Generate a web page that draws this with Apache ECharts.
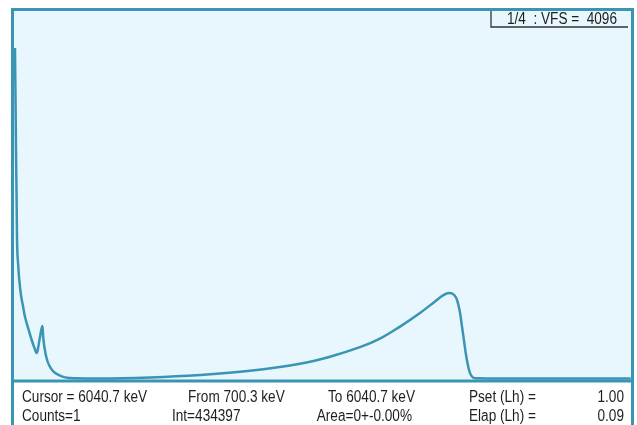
<!DOCTYPE html>
<html><head><meta charset="utf-8">
<script src="https://cdn.jsdelivr.net/npm/echarts@6/dist/echarts.min.js"></script>
<style>html,body{margin:0;padding:0;background:#fff}#c{width:637px;height:425px}</style>
</head><body><div id="c"></div>
<script>
// Spectrum: channel (0..1024) vs counts (full scale 4096)
const channels = [4.1,5.0,5.8,6.8,7.9,9.4,11.2,14.0,17.3,20.6,26.8,31.7,36.3,40.0,41.5,45.4,49.2,50.7,52.9,56.2,60.3,66.9,75.1,86.7,103.2,144.5,227.1,309.7,392.3,474.8,524.4,573.9,606.9,640,673,697.8,711,720.9,727.5,732.5,735.8,739.1,742.4,745.7,749,752.3,755.6,760.6,767.2,805.2,887.7,1021];
const counts   = [3672,3098,2547,1996,1444,1279,1114,948,827,709,562,452,364,309,336,485,607,485,364,254,176,110,70,40,30,28,39,66,112,190,268,373,467,600,750,877,944,971,960,921,855,756,600,445,290,170,88,38,30,28,28,28];
const vfs = 4096, channelsMax = 1024;
const infoLeft  = [["Cursor = 6040.7 keV","Counts=1"],["From 700.3 keV","Int=434397"],["To 6040.7 keV","Area=0+-0.00%"],["Pset (Lh) =","Elap (Lh) ="]];
const infoRight = ["1.00","0.09"];
const scaleLabel = "1/4  : VFS =  4096";

const FONT = "'Liberation Sans',Arial,sans-serif";
const C = '#3a94b4';
const chart = echarts.init(document.getElementById('c'), null, {renderer:'canvas'});
const data = channels.map((x,i)=>[x,counts[i]]);
const txt = (x,y,t,align)=>({type:'text',x:x,y:y,scaleX:0.85,style:{text:t,font:'16px '+FONT,fill:'#1e1e1e',textAlign:align||'left',textVerticalAlign:'middle'},z:10});
const g = [
  {type:'line',shape:{x1:12.5,y1:381,x2:12.5,y2:430},style:{stroke:C,lineWidth:3}},
  {type:'line',shape:{x1:632.5,y1:381,x2:632.5,y2:430},style:{stroke:C,lineWidth:3}},
  {type:'polyline',shape:{points:[[491,11],[491,27],[628,27]]},style:{stroke:'#333',lineWidth:1.3,fill:null},z:10},
  txt(562,20,scaleLabel,'center'),
  txt(22,397.5,infoLeft[0][0]), txt(22,416.5,infoLeft[0][1]),
  txt(188,397.5,infoLeft[1][0]), txt(172,416.5,infoLeft[1][1]),
  txt(415,397.5,infoLeft[2][0],'right'), txt(412,416.5,infoLeft[2][1],'right'),
  txt(469,397.5,infoLeft[3][0]), txt(469,416.5,infoLeft[3][1]),
  txt(624,397.5,infoRight[0],'right'), txt(624,416.5,infoRight[1],'right')
];
chart.setOption({
  animation:false,
  backgroundColor:'#fff',
  grid:{left:12.5,right:4.5,top:9.5,bottom:44,show:true,backgroundColor:'#e8f6fd',borderColor:C,borderWidth:3},
  xAxis:{type:'value',min:0,max:channelsMax,show:false},
  yAxis:{type:'value',min:0,max:vfs,show:false},
  series:[{type:'line',data:data,showSymbol:false,smooth:0.4,lineStyle:{color:C,width:2.5},clip:true}],
  graphic:g
});
</script></body></html>
